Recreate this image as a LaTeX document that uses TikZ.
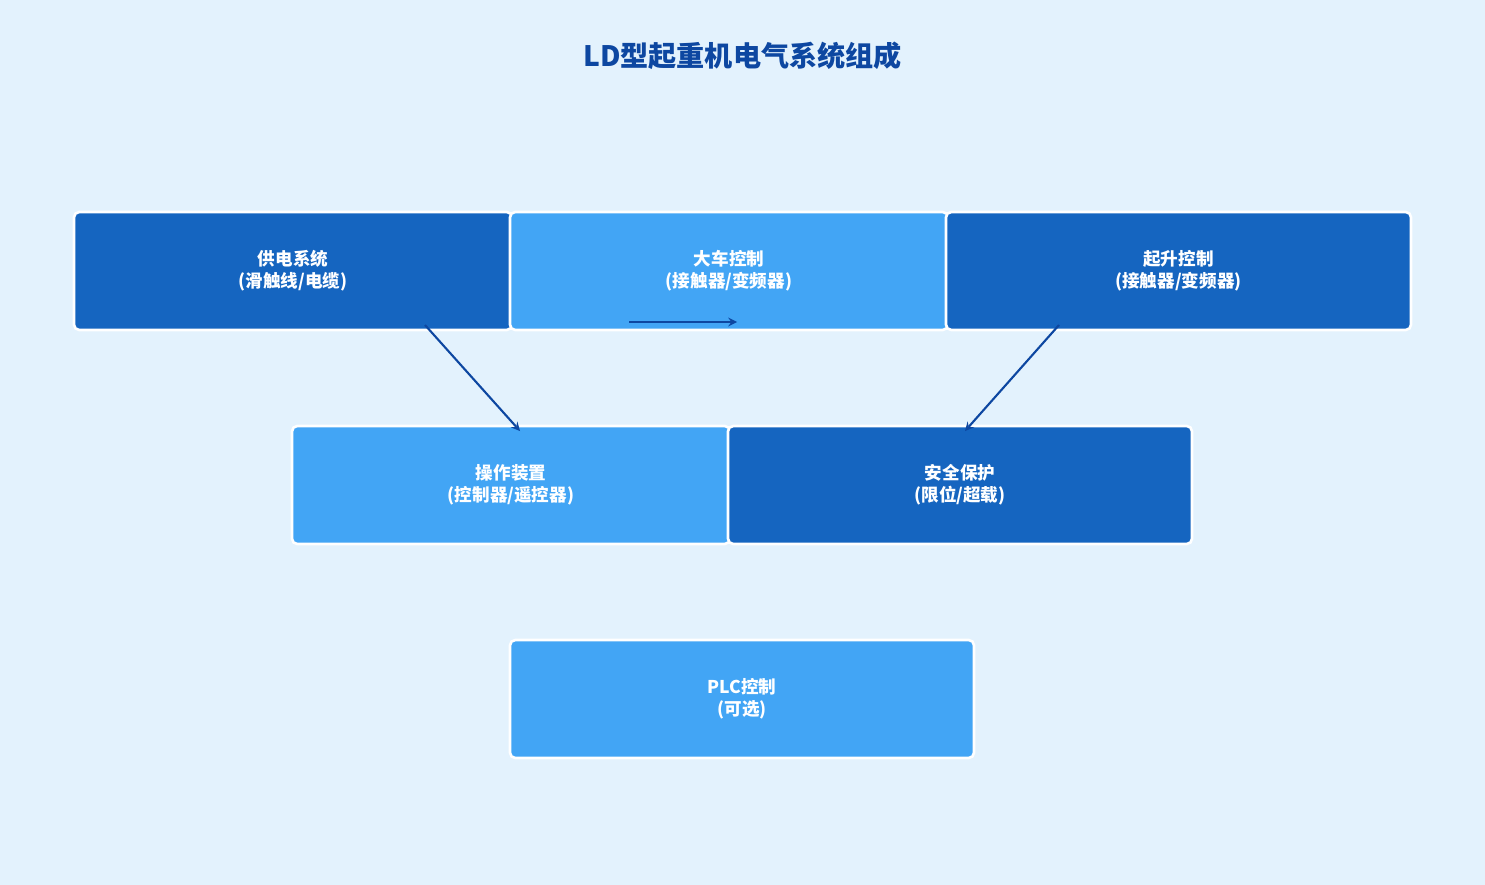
\documentclass[tikz,border=0pt]{standalone}
\usepackage{fontspec}
\setmainfont{Noto Sans CJK SC}
\usetikzlibrary{positioning}
\definecolor{bgblue}{HTML}{E3F2FD}
\definecolor{darkbox}{HTML}{1565C0}
\definecolor{lightbox}{HTML}{42A5F5}
\definecolor{titleblue}{HTML}{0D47A1}
\tikzset{
  partbox/.style={draw=white, line width=1.5pt, rounded corners=3pt,
    minimum height=2.36cm, align=center, text=white,
    font=\fontsize{10pt}{12.5pt}\selectfont\bfseries},
  darkpart/.style={partbox, fill=darkbox},
  lightpart/.style={partbox, fill=lightbox},
  line/.style={draw=titleblue, line width=1.2pt, -stealth}
}
\begin{document}
\begin{tikzpicture}
  \fill[bgblue] (0,0) rectangle (29.7,-17.7);
  \useasboundingbox (0,0) rectangle (29.7,-17.7);
  \node[font=\fontsize{16pt}{18pt}\selectfont\bfseries, text=titleblue] (title) at (14.85,-1.12) {LD型起重机电气系统组成};
  \node[darkpart, minimum width=8.76cm] (power) at (5.86,-5.42) {供电系统\\(滑触线/电缆)};
  \node[lightpart, minimum width=8.76cm] (travel) at (14.58,-5.42) {大车控制\\(接触器/变频器)};
  \node[darkpart, minimum width=9.3cm] (hoist) at (23.57,-5.42) {起升控制\\(接触器/变频器)};
  \node[lightpart, minimum width=8.76cm] (operate) at (10.22,-9.7) {操作装置\\(控制器/遥控器)};
  \node[darkpart, minimum width=9.28cm] (safety) at (19.2,-9.7) {安全保护\\(限位/超载)};
  \node[lightpart, minimum width=9.28cm] (plc) at (14.84,-13.98) {PLC控制\\(可选)};
  %% Arrows
  \coordinate (p1) at (8.5,-6.5);
  \coordinate (p2) at (10.4,-8.62);
  \coordinate (t1) at (12.58,-6.44);
  \coordinate (t2) at (14.74,-6.44);
  \coordinate (h1) at (21.18,-6.5);
  \coordinate (h2) at (19.3,-8.62);
  \path[line] (p1) -- (p2);
  \path[line] (t1) -- (t2);
  \path[line] (h1) -- (h2);
\end{tikzpicture}
\end{document}
